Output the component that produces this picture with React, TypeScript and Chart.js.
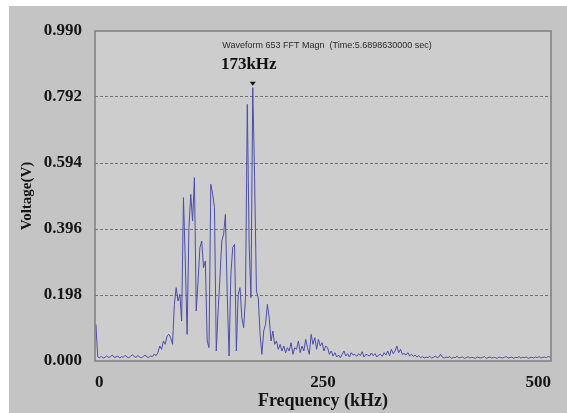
import React, { useEffect, useRef } from "react";
import { Chart, registerables } from "chart.js";

Chart.register(...registerables);

// FFT magnitude spectrum, sampled every 2 kHz starting at 1 kHz
const FREQ_START_KHZ = 1;
const FREQ_STEP_KHZ = 2;

const voltage = [
  0.110, 0.012, 0.010, 0.014, 0.009, 0.011, 0.016, 0.010, 0.013, 0.018,
  0.011, 0.012, 0.015, 0.009, 0.013, 0.011, 0.017, 0.012, 0.010, 0.014,
  0.019, 0.013, 0.011, 0.016, 0.012, 0.010, 0.014, 0.018, 0.012, 0.011,
  0.015, 0.013, 0.021, 0.016, 0.025, 0.045, 0.035, 0.060, 0.050, 0.075,
  0.080, 0.070, 0.050, 0.170, 0.220, 0.180, 0.200, 0.120, 0.490, 0.300,
  0.080, 0.400, 0.500, 0.420, 0.550, 0.150, 0.240, 0.340, 0.360, 0.280,
  0.300, 0.060, 0.040, 0.530, 0.500, 0.460, 0.030, 0.150, 0.250, 0.360,
  0.380, 0.440, 0.200, 0.015, 0.260, 0.340, 0.350, 0.030, 0.200, 0.220,
  0.130, 0.100, 0.190, 0.770, 0.350, 0.190, 0.820, 0.550, 0.210, 0.190,
  0.080, 0.020, 0.090, 0.110, 0.170, 0.130, 0.060, 0.090, 0.050, 0.060,
  0.035, 0.050, 0.030, 0.045, 0.025, 0.040, 0.030, 0.055, 0.020, 0.040,
  0.035, 0.060, 0.025, 0.045, 0.030, 0.065, 0.040, 0.020, 0.080, 0.050,
  0.070, 0.035, 0.065, 0.045, 0.055, 0.030, 0.045, 0.040, 0.020, 0.030,
  0.015, 0.025, 0.012, 0.018, 0.010, 0.020, 0.030, 0.015, 0.022, 0.012,
  0.025, 0.018, 0.020, 0.014, 0.022, 0.016, 0.028, 0.012, 0.020, 0.018,
  0.015, 0.024, 0.016, 0.022, 0.012, 0.018, 0.020, 0.014, 0.025, 0.018,
  0.030, 0.016, 0.035, 0.022, 0.030, 0.045, 0.025, 0.035, 0.020, 0.022,
  0.018, 0.025, 0.015, 0.020, 0.014, 0.018, 0.012, 0.016, 0.010, 0.013,
  0.009, 0.012, 0.010, 0.014, 0.009, 0.011, 0.015, 0.010, 0.012, 0.020,
  0.011, 0.009, 0.012, 0.010, 0.013, 0.008, 0.011, 0.010, 0.014, 0.009,
  0.011, 0.012, 0.008, 0.010, 0.013, 0.009, 0.011, 0.010, 0.008, 0.012,
  0.010, 0.009, 0.011, 0.013, 0.008, 0.010, 0.012, 0.009, 0.011, 0.010,
  0.008, 0.012, 0.010, 0.009, 0.011, 0.013, 0.009, 0.010, 0.012, 0.008,
  0.011, 0.010, 0.013, 0.009, 0.011, 0.010, 0.012, 0.008, 0.010, 0.011,
  0.009, 0.012, 0.010, 0.013, 0.009, 0.011, 0.012, 0.010, 0.014, 0.011,
];

const frequencyKHz = voltage.map((_, i) => FREQ_START_KHZ + FREQ_STEP_KHZ * i);

const yTicks = [0, 0.198, 0.396, 0.594, 0.792, 0.99];
const xTicks = [0, 250, 500];

const peakFreqKHz = 173;
const peakLabel = "173kHz";
const plotTitle = "Waveform 653 FFT Magn  (Time:5.6898630000 sec)";
const xTitle = "Frequency (kHz)";
const yTitle = "Voltage(V)";

const SERIF = "'Liberation Serif', 'Times New Roman', serif";
const SANS = "'Liberation Sans', Arial, sans-serif";

export default function App() {
  const canvasRef = useRef<HTMLCanvasElement>(null);

  useEffect(() => {
    document.body.style.margin = "0";
    const canvas = canvasRef.current;
    if (!canvas) return;

    const decor = {
      id: "decor",
      beforeDraw(chart: any) {
        const { ctx, width, height, chartArea: a } = chart;
        ctx.save();
        ctx.fillStyle = "#ffffff";
        ctx.fillRect(0, 0, width, height);
        ctx.fillStyle = "#c4c4c4";
        ctx.fillRect(9, 6, width - 9, height - 6);
        ctx.fillStyle = "#cdcdcd";
        ctx.fillRect(a.left, a.top, a.right - a.left, a.bottom - a.top);
        ctx.restore();
      },
      afterDraw(chart: any) {
        const { ctx, chartArea: a, scales } = chart;
        ctx.save();
        // plot frame
        ctx.strokeStyle = "#7e7e7e";
        ctx.lineWidth = 1.5;
        ctx.strokeRect(a.left, a.top, a.right - a.left, a.bottom - a.top);

        // caption inside the plot
        ctx.fillStyle = "#2a2a2a";
        ctx.font = `9px ${SANS}`;
        ctx.textAlign = "center";
        ctx.textBaseline = "middle";
        ctx.fillText(plotTitle, (a.left + a.right) / 2 + 4, a.top + 15);

        // peak annotation
        const idx = frequencyKHz.indexOf(peakFreqKHz);
        const px = scales.x.getPixelForValue(peakFreqKHz);
        const py = scales.y.getPixelForValue(voltage[idx]);
        ctx.fillStyle = "#111111";
        ctx.font = `bold 17px ${SERIF}`;
        ctx.fillText(peakLabel, px - 4, py - 23);
        ctx.beginPath();
        ctx.moveTo(px - 3, py - 6);
        ctx.lineTo(px + 3, py - 6);
        ctx.lineTo(px, py - 2);
        ctx.closePath();
        ctx.fill();
        ctx.restore();
      },
    };

    const chart = new Chart(canvas, {
      type: "line",
      data: {
        datasets: [
          {
            data: frequencyKHz.map((x, i) => ({ x, y: voltage[i] })),
            borderColor: "#4d4dad",
            borderWidth: 1,
            pointRadius: 0,
            tension: 0,
            fill: false,
          },
        ],
      },
      options: {
        animation: false,
        responsive: false,
        layout: { padding: { left: 0, top: 31, right: 16, bottom: 0 } },
        plugins: {
          legend: { display: false },
          tooltip: { enabled: false },
        },
        scales: {
          x: {
            type: "linear",
            min: 0,
            max: 500,
            afterBuildTicks: (s: any) => {
              s.ticks = xTicks.map((value) => ({ value }));
            },
            afterFit: (s: any) => {
              s.height = 52;
            },
            grid: { display: false, drawTicks: false },
            border: { display: false },
            ticks: {
              align: "inner",
              padding: 11,
              color: "#151515",
              font: { family: SERIF, size: 17, weight: "bold" },
              callback: (v: any) => String(v),
            },
            title: {
              display: true,
              text: xTitle,
              color: "#151515",
              font: { family: SERIF, size: 18, weight: "bold" },
              padding: { top: 0, bottom: 1 },
            },
          },
          y: {
            type: "linear",
            min: 0,
            max: 0.99,
            afterBuildTicks: (s: any) => {
              s.ticks = yTicks.map((value) => ({ value }));
            },
            afterFit: (s: any) => {
              s.width = 95;
            },
            grid: {
              drawTicks: false,
              lineWidth: 1,
              color: (c: any) =>
                c.tick && c.tick.value > 0 && c.tick.value < 0.99
                  ? "rgba(95,95,95,0.85)"
                  : "rgba(0,0,0,0)",
            },
            border: { display: false, dash: [3, 2] },
            ticks: {
              padding: 13,
              color: "#151515",
              font: { family: SERIF, size: 17, weight: "bold" },
              callback: (v: any) => Number(v).toFixed(3),
            },
            title: {
              display: true,
              text: yTitle,
              color: "#151515",
              font: { family: SERIF, size: 15, weight: "bold" },
              padding: { top: 18, bottom: 0 },
            },
          },
        },
      },
      plugins: [decor],
    } as any);

    return () => chart.destroy();
  }, []);

  return (
    <canvas
      ref={canvasRef}
      width={567}
      height={413}
      style={{ display: "block", width: 567, height: 413 }}
    />
  );
}
